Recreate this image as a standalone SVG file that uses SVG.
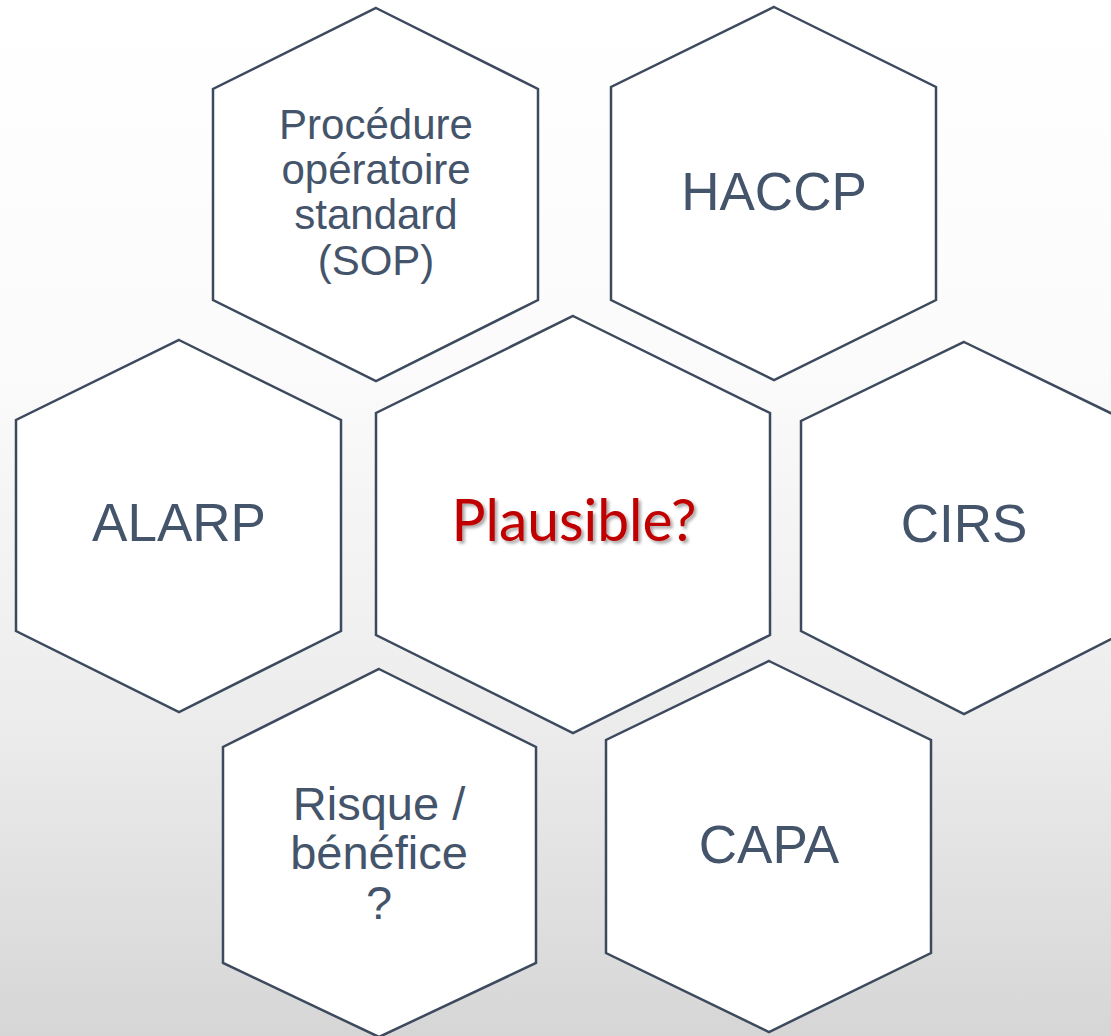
<svg xmlns="http://www.w3.org/2000/svg" width="1111" height="1036" viewBox="0 0 1111 1036">
  <defs>
    <linearGradient id="bg" x1="0" y1="0" x2="0" y2="1">
      <stop offset="0" stop-color="#ffffff"/>
      <stop offset="0.35" stop-color="#fbfbfb"/>
      <stop offset="0.7" stop-color="#ececec"/>
      <stop offset="1" stop-color="#d6d6d6"/>
    </linearGradient>
    <filter id="shadow" x="-10%" y="-30%" width="130%" height="170%">
      <feDropShadow dx="2.5" dy="2.5" stdDeviation="1.6" flood-color="#000000" flood-opacity="0.35"/>
    </filter>
  </defs>
  <style>
    .hex { fill: #ffffff; stroke: #3d4a5d; stroke-width: 2.5; stroke-linejoin: miter; }
    .lbl { font-family: "Liberation Sans", Arial, sans-serif; fill: #44546a; text-anchor: middle; }
    .main { font-family: Lato, "Noto Sans", sans-serif; fill: #c00000; text-anchor: middle; font-size: 58px; }
  </style>

  <rect x="0" y="0" width="1111" height="1036" fill="url(#bg)"/>

  <g id="connectors"></g>

  <g id="node-sop">
    <polygon class="hex" points="376,8 538,89 538,300 376,381 213,300 213,89"/>
    <text class="lbl" font-size="42" x="376" y="139">Procédure</text>
    <text class="lbl" font-size="42" x="376" y="184">opératoire</text>
    <text class="lbl" font-size="42" x="376" y="229">standard</text>
    <text class="lbl" font-size="42" x="376" y="275">(SOP)</text>
  </g>

  <g id="node-haccp">
    <polygon class="hex" points="774,7 936,87 936,300 774,380 611,300 611,87"/>
    <text class="lbl" font-size="53" x="774" y="210">HACCP</text>
  </g>

  <g id="node-alarp">
    <polygon class="hex" points="179,340 341,420 341,631 179,712 16,631 16,420"/>
    <text class="lbl" font-size="53" x="179" y="541">ALARP</text>
  </g>

  <g id="node-plausible">
    <polygon class="hex" points="573,316 770,413 770,635 573,733 376,635 376,413"/>
    <text class="main" x="574" y="541" textLength="245" lengthAdjust="spacingAndGlyphs" filter="url(#shadow)">Plausible?</text>
  </g>

  <g id="node-cirs">
    <polygon class="hex" points="964,342 1127,421 1127,631 964,714 801,631 801,421"/>
    <text class="lbl" font-size="53" x="964" y="542">CIRS</text>
  </g>

  <g id="node-risque">
    <polygon class="hex" points="379,669 536,747 536,963 379,1037 223,963 223,747"/>
    <text class="lbl" font-size="47" x="379" y="820">Risque /</text>
    <text class="lbl" font-size="47" x="379" y="869">bénéfice</text>
    <text class="lbl" font-size="47" x="379" y="919">?</text>
  </g>

  <g id="node-capa">
    <polygon class="hex" points="769,661 931,740 931,953 769,1032 606,953 606,740"/>
    <text class="lbl" font-size="53" x="769" y="863">CAPA</text>
  </g>
</svg>
